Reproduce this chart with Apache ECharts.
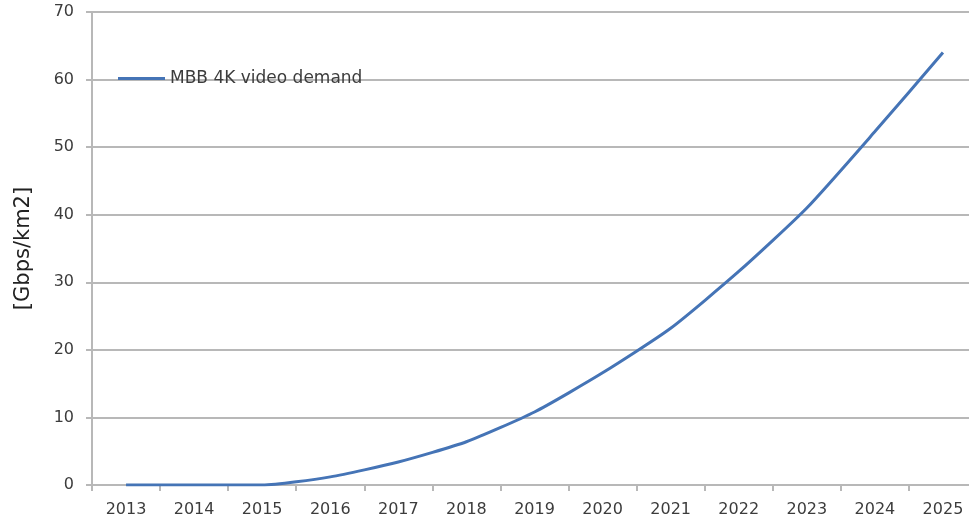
<!DOCTYPE html>
<html>
<head>
<meta charset="utf-8">
<script src="https://cdn.jsdelivr.net/npm/echarts@6/dist/echarts.min.js"></script>
<style>
  html, body { margin: 0; padding: 0; background: #fff; overflow: hidden; }
  #frame { width: 969px; height: 520px; overflow: hidden; }
  /* plot runs a few pixels past the right edge of the frame */
  #chart { width: 977px; height: 520px; }
</style>
</head>
<body>
<div id="frame"><div id="chart"></div></div>
<script>
// Yearly categories and the projected demand (Gbps per km²)
const years = ['2013', '2014', '2015', '2016', '2017', '2018', '2019',
               '2020', '2021', '2022', '2023', '2024', '2025'];
const demand4k = [0, 0, 0, 1.2, 3.4, 6.4, 10.8, 16.6, 23.2, 31.6, 41.0, 52.3, 64.0];
const seriesName = 'MBB 4K video demand';
const yAxisTitle = '[Gbps/km2]';

const chart = echarts.init(document.getElementById('chart'), null, { renderer: 'canvas' });

const gridGrey = '#b8b8b8';
const textGrey = '#3c3c3c';
const fontFamily = '"DejaVu Sans", Verdana, sans-serif';

chart.setOption({
  animation: false,
  backgroundColor: '#ffffff',
  grid: { left: 92, top: 12, bottom: 35, right: 0 },
  legend: {
    data: [seriesName],
    left: 113,
    top: 65,
    icon: 'rect',
    itemWidth: 47,
    itemHeight: 3,
    itemGap: 4,
    textStyle: { fontFamily, fontSize: 17, color: textGrey }
  },
  xAxis: {
    type: 'category',
    data: years,
    boundaryGap: true,
    axisLine: { lineStyle: { color: gridGrey, width: 2 } },
    axisTick: { show: true, alignWithLabel: false, length: 6, lineStyle: { color: gridGrey, width: 2 } },
    axisLabel: { fontFamily, fontSize: 16, color: textGrey, margin: 17, interval: 0 }
  },
  yAxis: {
    type: 'value',
    min: 0,
    max: 70,
    interval: 10,
    name: yAxisTitle,
    nameLocation: 'middle',
    nameGap: 58,
    nameTextStyle: { fontFamily, fontSize: 21, color: '#222222' },
    axisLine: { show: true, lineStyle: { color: gridGrey, width: 2 } },
    axisTick: { show: true, inside: false, length: 6, lineStyle: { color: gridGrey, width: 2 } },
    axisLabel: { fontFamily, fontSize: 16, color: textGrey, margin: 18 },
    splitLine: { show: true, lineStyle: { color: gridGrey, width: 2 } }
  },
  series: [{
    name: seriesName,
    type: 'line',
    data: demand4k,
    smooth: 0.2,
    symbol: 'none',
    lineStyle: { color: '#4574b6', width: 3 },
    itemStyle: { color: '#4574b6' }
  }]
});
</script>
</body>
</html>
